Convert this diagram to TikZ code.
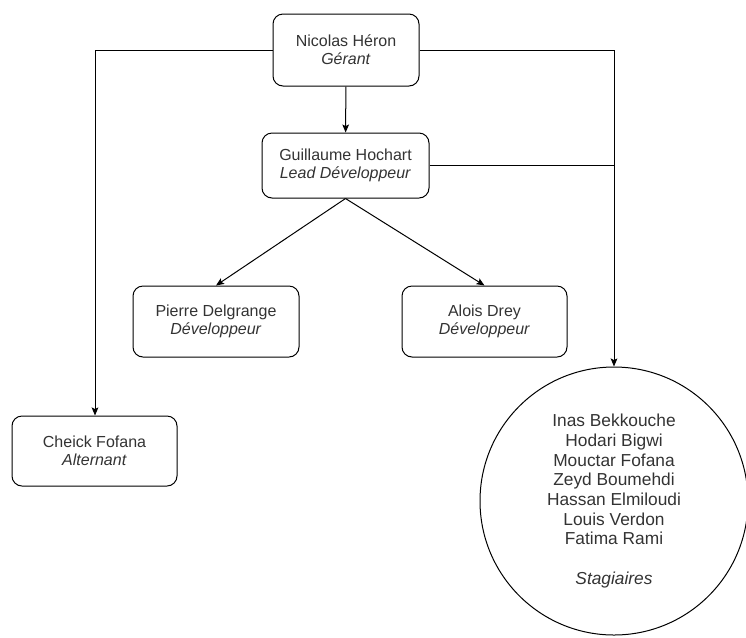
\documentclass[tikz,border=0pt]{standalone}
\usepackage{fontspec}
\setmainfont{Liberation Sans}
\usetikzlibrary{arrows.meta}
\definecolor{txt}{HTML}{333333}
\tikzset{
  person/.style={draw=black, line width=0.75pt, rounded corners=7.5pt, align=center,
    text=txt, font=\fontsize{12}{13.5}\selectfont, inner sep=0pt},
  group/.style={draw=black, line width=0.75pt, circle, align=center, text=txt,
    font=\fontsize{13}{14.8}\selectfont, inner sep=0pt},
  link/.style={draw=black, line width=0.75pt},
  arr/.style={link, -{Stealth[length=6pt, width=5pt, inset=1.2pt]}}
}
\begin{document}
\begin{tikzpicture}[x=0.75pt, y=-0.75pt]
\useasboundingbox (0,0) rectangle (746,637);
\node[person, minimum width=146*0.75pt, minimum height=72*0.75pt] (nic) at (346,50) {Nicolas Héron\\\textit{Gérant}};
\node[person, minimum width=167*0.75pt, minimum height=65*0.75pt] (gui) at (345.5,165.5) {Guillaume Hochart\\\textit{Lead Développeur}};
\node[person, minimum width=166*0.75pt, minimum height=71*0.75pt] (pie) at (216,321.5) {Pierre Delgrange\\\textit{Développeur}};
\node[person, minimum width=165*0.75pt, minimum height=71*0.75pt] (alo) at (484.5,321.5) {Alois Drey\\\textit{Développeur}};
\node[person, minimum width=165*0.75pt, minimum height=70*0.75pt] (che) at (94.5,451) {Cheick Fofana\\\textit{Alternant}};
\node[group, minimum size=268*0.75pt] (sta) at (614,501) {Inas Bekkouche\\Hodari Bigwi\\Mouctar Fofana\\Zeyd Boumehdi\\Hassan Elmiloudi\\Louis Verdon\\Fatima Rami\\[14.8pt]\textit{Stagiaires}};
\coordinate (lc) at (95,50);
\coordinate (rc) at (614,50);
\coordinate (jn) at (614,165.5);
\draw[arr] (nic) -- (gui);
\draw[arr] (gui.south) -- (pie.north);
\draw[arr] (gui.south) -- (alo.north);
\draw[arr] (nic.west) -- (lc) -- (che.north -| lc);
\draw[arr] (nic.east) -- (rc) -- (sta.north);
\draw[link] (gui.east) -- (jn);
\end{tikzpicture}
\end{document}
